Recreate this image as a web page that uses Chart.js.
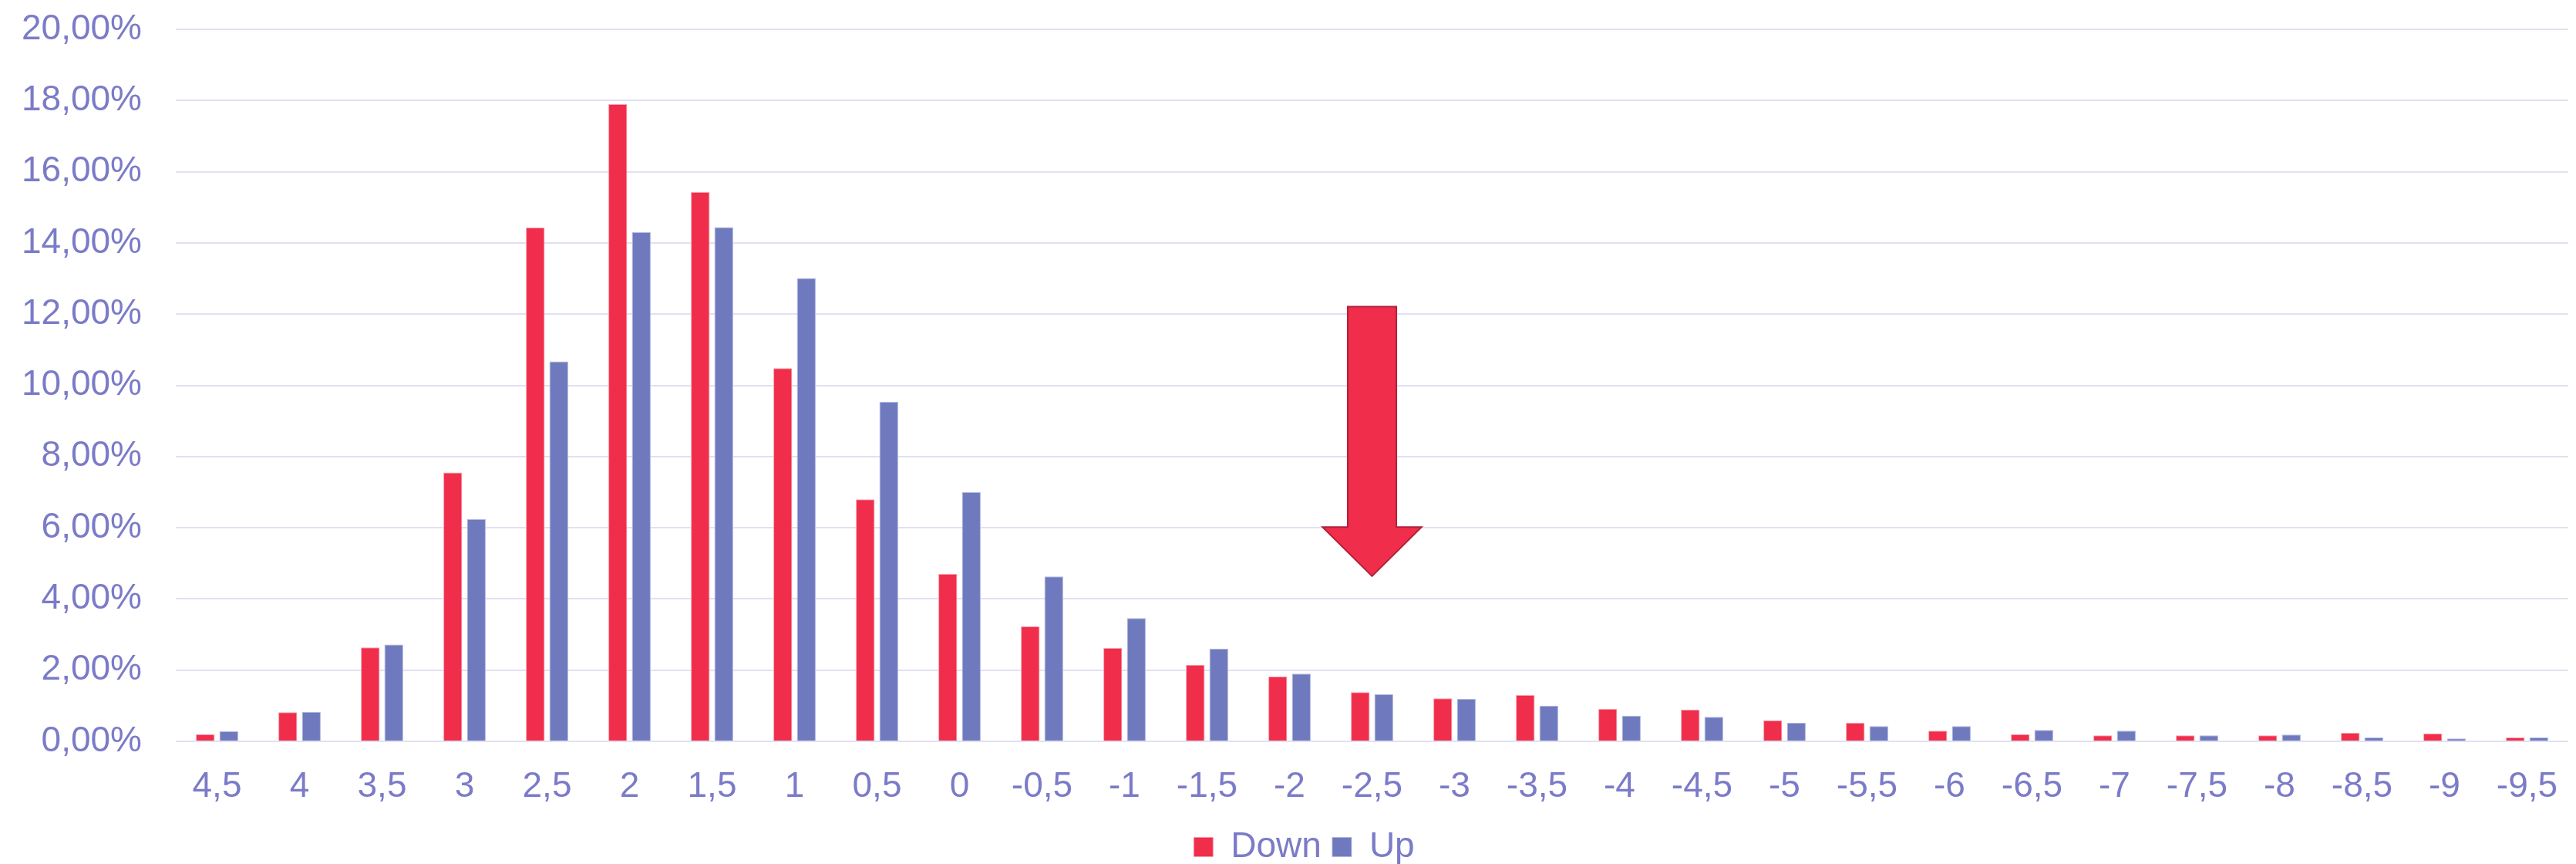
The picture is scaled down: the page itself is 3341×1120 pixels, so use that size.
<!DOCTYPE html>
<html>
<head>
<meta charset="utf-8">
<script src="https://cdn.jsdelivr.net/npm/chart.js@4/dist/chart.umd.min.js"></script>
<style>
  html, body { margin: 0; padding: 0; background: #ffffff; }
  canvas { display: block; }
</style>
</head>
<body>
<canvas id="chart" width="3341" height="1120"></canvas>
<script>
// Distribution of moves (share of observations per bucket)
const categories = ['4,5', '4', '3,5', '3', '2,5', '2', '1,5', '1', '0,5', '0',
  '-0,5', '-1', '-1,5', '-2', '-2,5', '-3', '-3,5', '-4', '-4,5', '-5',
  '-5,5', '-6', '-6,5', '-7', '-7,5', '-8', '-8,5', '-9', '-9,5'];

const downValues = [0.20, 0.82, 2.64, 7.55, 14.43, 17.90, 15.43, 10.48, 6.80, 4.70,
  3.23, 2.62, 2.15, 1.82, 1.38, 1.21, 1.30, 0.91, 0.89, 0.59,
  0.52, 0.30, 0.20, 0.17, 0.17, 0.17, 0.24, 0.22, 0.11];

const upValues = [0.28, 0.83, 2.72, 6.24, 10.67, 14.30, 14.44, 13.01, 9.54, 7.00,
  4.63, 3.46, 2.60, 1.90, 1.32, 1.19, 1.00, 0.72, 0.69, 0.52,
  0.43, 0.43, 0.32, 0.30, 0.17, 0.19, 0.11, 0.08, 0.11];

const yTicks = { min: 0, max: 20, step: 2 };

// Block arrow pointing down at the "-2,5" bucket (values in axis units)
const arrowSpec = { category: '-2,5', top: 12.21, headBase: 6.02, tip: 4.64, shaftWidth: 0.59, headWidth: 1.2 };

const RED = '#F02D4A';
const BLUE = '#6F7ABE';
const TEXT = '#7B7BC8';
const GRID = '#E2E0F2';
const FONT = "'Liberation Sans', Arial, Helvetica, sans-serif";

const fmtPct = v => v.toFixed(2).replace('.', ',') + '%';

const arrowPlugin = {
  id: 'blockArrow',
  afterDatasetsDraw(chart) {
    const { ctx, scales: { x, y } } = chart;
    const idx = categories.indexOf(arrowSpec.category);
    const cx = x.getPixelForValue(idx);
    const catW = x.width / categories.length;
    const sw = catW * arrowSpec.shaftWidth / 2;
    const hw = catW * arrowSpec.headWidth / 2;
    const yTop = y.getPixelForValue(arrowSpec.top);
    const yBase = y.getPixelForValue(arrowSpec.headBase);
    const yTip = y.getPixelForValue(arrowSpec.tip);
    ctx.save();
    ctx.beginPath();
    ctx.moveTo(cx - sw, yTop);
    ctx.lineTo(cx + sw, yTop);
    ctx.lineTo(cx + sw, yBase);
    ctx.lineTo(cx + hw, yBase);
    ctx.lineTo(cx, yTip);
    ctx.lineTo(cx - hw, yBase);
    ctx.lineTo(cx - sw, yBase);
    ctx.closePath();
    ctx.fillStyle = RED;
    ctx.fill();
    ctx.lineWidth = 2;
    ctx.strokeStyle = '#B0213A';
    ctx.lineJoin = 'miter';
    ctx.stroke();
    ctx.restore();
  }
};

// Nudge the legend row slightly right of the canvas centre
const legendShift = {
  id: 'legendShift',
  afterLayout(chart) {
    if (chart.legend) {
      chart.legend.left += 14;
      chart.legend.right += 14;
    }
  }
};

new Chart(document.getElementById('chart'), {
  type: 'bar',
  data: {
    labels: categories,
    datasets: [
      {
        label: 'Down',
        data: downValues,
        backgroundColor: RED,
        borderColor: '#F8A3B1',
        borderWidth: { top: 1, left: 1, right: 1, bottom: 0 },
        categoryPercentage: 0.57,
        barPercentage: 0.80
      },
      {
        label: 'Up',
        data: upValues,
        backgroundColor: BLUE,
        borderColor: '#B4BADF',
        borderWidth: { top: 1, left: 1, right: 1, bottom: 0 },
        categoryPercentage: 0.57,
        barPercentage: 0.80
      }
    ]
  },
  options: {
    responsive: false,
    animation: false,
    devicePixelRatio: 1,
    layout: { padding: { top: 38, left: 24, right: 10, bottom: -11 } },
    plugins: {
      legend: {
        position: 'bottom',
        align: 'center',
        labels: {
          color: TEXT,
          font: { family: FONT, size: 46 },
          boxWidth: 25,
          boxHeight: 25,
          padding: 14
        }
      },
      tooltip: { enabled: false }
    },
    scales: {
      x: {
        grid: { display: false, drawTicks: false },
        border: { display: false },
        ticks: {
          color: TEXT,
          font: { family: FONT, size: 46 },
          padding: 32,
          maxRotation: 0,
          autoSkip: false
        },
        afterFit(axis) {
          axis.height = 100;
          axis.paddingLeft = 0;
          axis.paddingRight = 0;
        }
      },
      y: {
        min: yTicks.min,
        max: yTicks.max,
        grid: { color: GRID, lineWidth: 2, drawTicks: false },
        border: { display: false },
        ticks: {
          stepSize: yTicks.step,
          color: TEXT,
          font: { family: FONT, size: 46 },
          padding: 44,
          callback: v => fmtPct(v)
        },
        afterFit(axis) {
          axis.width = 204;
          axis.paddingTop = 0;
          axis.paddingBottom = 0;
        }
      }
    }
  },
  plugins: [arrowPlugin, legendShift]
});
</script>
</body>
</html>
